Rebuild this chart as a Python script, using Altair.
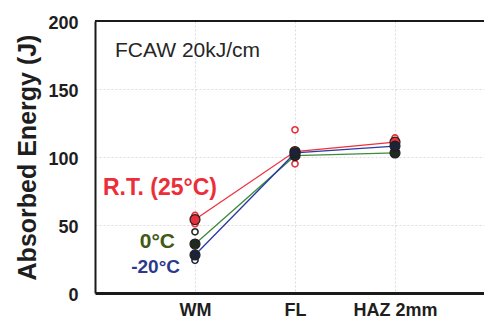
import altair as alt
import pandas as pd

# Charpy absorbed energy, FCAW 20 kJ/cm, by notch location and test temperature
locations = ["WM", "FL", "HAZ 2mm"]
loc_pos = [1, 2, 3]

series = ["R.T. (25°C)", "0°C", "-20°C"]
mean_rt = [54, 104, 111]
mean_0 = [36, 101, 103]
mean_m20 = [28, 103, 108]

# individual specimen results (open circles)
spec_series = ["R.T. (25°C)", "R.T. (25°C)", "R.T. (25°C)", "R.T. (25°C)", "R.T. (25°C)",
               "0°C", "0°C", "0°C",
               "-20°C", "-20°C", "-20°C"]
spec_pos = [1, 1, 2, 2, 3,
            1, 2, 3,
            1, 2, 3]
spec_val = [51, 57, 120, 95, 114,
            45, 100, 104,
            24, 102, 106]

line_colors = ["#f0303c", "#3c8c3c", "#2a3aa0"]
dot_fill = ["#e8303a", "#1f2a20", "#1c2238"]
label_colors = ["#ec2e3a", "#3f5a14", "#2b3a8c"]

means = pd.DataFrame({
    "series": [s for s in series for _ in loc_pos],
    "pos": loc_pos * 3,
    "energy": mean_rt + mean_0 + mean_m20,
})
specs = pd.DataFrame({"series": spec_series, "pos": spec_pos, "energy": spec_val})

notes = pd.DataFrame({
    "text": ["R.T. (25°C)", "0°C", "-20°C"],
    "pos": [1.22, 0.80, 0.85],
    "energy": [72, 33, 14.7],
    "series": series,
})

W, H = 389, 272
xs = alt.Scale(domain=[0, 3.89], nice=False, zero=False)
ys = alt.Scale(domain=[0, 200], nice=False)

x_enc = alt.X("pos:Q", scale=xs, axis=alt.Axis(
    values=loc_pos, title=None, ticks=False, labelPadding=8,
    labelExpr="datum.value == 1 ? 'WM' : datum.value == 2 ? 'FL' : 'HAZ 2mm'",
    labelFont="Liberation Sans", labelFontWeight="bold", labelFontSize=18,
    labelColor="#1e1e1e", domainColor="#1a1a1a", domainWidth=3,
    grid=True, gridColor="#dcdcdc", gridDash=[2, 2], gridWidth=1))
y_enc = alt.Y("energy:Q", scale=ys, axis=alt.Axis(
    values=[0, 50, 100, 150, 200], title="Absorbed Energy (J)", ticks=False,
    labelPadding=17, labelFont="Liberation Sans", labelFontWeight="bold",
    labelFontSize=18, labelColor="#1e1e1e", labelBaseline="middle", labelOffset=2,
    titleFont="Liberation Sans", titleFontWeight="bold", titleFontSize=25,
    titleColor="#1e1e1e", titlePadding=7,
    domainColor="#1a1a1a", domainWidth=2,
    grid=True, gridColor="#dcdcdc", gridDash=[2, 2], gridWidth=1))

color_line = alt.Color("series:N", scale=alt.Scale(domain=series, range=line_colors), legend=None)
color_dot = alt.Color("series:N", scale=alt.Scale(domain=series, range=dot_fill), legend=None)

lines = alt.Chart(means).mark_line(strokeWidth=1.3).encode(
    x=x_enc, y=y_enc, color=color_line, detail="series:N")

open_pts = alt.Chart(specs).mark_point(
    shape="circle", filled=False, size=38, strokeWidth=1.6, fill="white", fillOpacity=1
).encode(x="pos:Q", y="energy:Q",
         stroke=alt.Stroke("series:N", scale=alt.Scale(domain=series, range=dot_fill), legend=None))

mean_pts = alt.Chart(means).mark_point(
    shape="circle", filled=True, size=100, opacity=1, strokeWidth=1.2, stroke="#202020"
).encode(x="pos:Q", y="energy:Q", color=color_dot)

series_labels = alt.Chart(notes).mark_text(
    align="right", baseline="alphabetic", font="Liberation Sans", fontWeight="bold"
).encode(
    x="pos:Q", y="energy:Q", text="text:N",
    size=alt.Size("series:N", scale=alt.Scale(domain=series, range=[23, 19, 19]), legend=None),
    color=alt.Color("series:N", scale=alt.Scale(domain=series, range=label_colors), legend=None),
)

title_note = alt.Chart(pd.DataFrame({"pos": [0.2], "energy": [173.5], "text": ["FCAW 20kJ/cm"]})).mark_text(
    align="left", baseline="alphabetic", font="Liberation Sans", fontSize=21, color="#262626"
).encode(x="pos:Q", y="energy:Q", text="text:N")

top_edge = alt.Chart(pd.DataFrame({"energy": [200]})).mark_rule(
    color="#1a1a1a", strokeWidth=2
).encode(y="energy:Q", x=alt.value(0), x2=alt.value(W))

chart = alt.layer(
    lines, open_pts, mean_pts, series_labels, title_note, top_edge
).resolve_scale(color="independent").properties(
    width=W, height=H,
    autosize=alt.AutoSizeParams(type="none"),
    padding={"left": 95, "top": 21, "right": 0, "bottom": 34},
    background="white",
).configure_view(stroke=None)

chart.save("out.html", embed_options={"renderer": "svg", "actions": False})
